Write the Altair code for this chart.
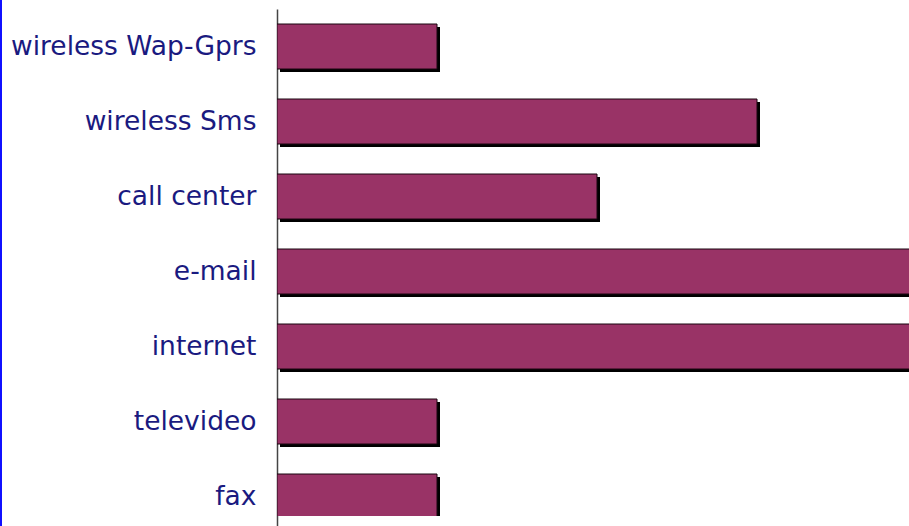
import altair as alt
import pandas as pd

categories = ["wireless Wap-Gprs", "wireless Sms", "call center", "e-mail", "internet", "televideo", "fax"]
values = [1, 3, 2, 4, 4, 1, 1]

df = pd.DataFrame({"category": categories, "value": values})

y_enc = alt.Y(
    "category:N",
    sort=categories,
    scale=alt.Scale(range=[9, 534], paddingInner=0.4, paddingOuter=0.2),
    axis=alt.Axis(
        title=None, ticks=False, grid=False,
        domainColor="#444444", domainWidth=1.5,
        labelFont="DejaVu Sans", labelFontSize=26.5, labelColor="#1a1a80",
        labelPadding=21, labelLimit=300,
    ),
)
x_enc = alt.X("value:Q", scale=alt.Scale(domain=[0, 3.95], nice=False, zero=True), axis=None)

shadow = alt.Chart(df).mark_bar(color="#000000", xOffset=3, yOffset=3, clip=True).encode(x=x_enc, y=y_enc)
bars = alt.Chart(df).mark_bar(color="#993366", stroke="#1a0610", strokeWidth=1, clip=True).encode(x=x_enc, y=y_enc)

border = alt.Chart(df).mark_rule(color="#1010ff", strokeWidth=2).encode(
    x=alt.value(-276), y=alt.value(0), y2=alt.value(526)
)

chart = alt.layer(shadow, bars, border).properties(
    width=632, height=516,
    autosize=alt.AutoSizeParams(type="none"),
    padding={"left": 277, "top": 0, "right": 0, "bottom": 10},
    background="white",
).configure_view(stroke=None, strokeWidth=0)

chart.save("out.html", embed_options={"renderer": "svg", "actions": False})
